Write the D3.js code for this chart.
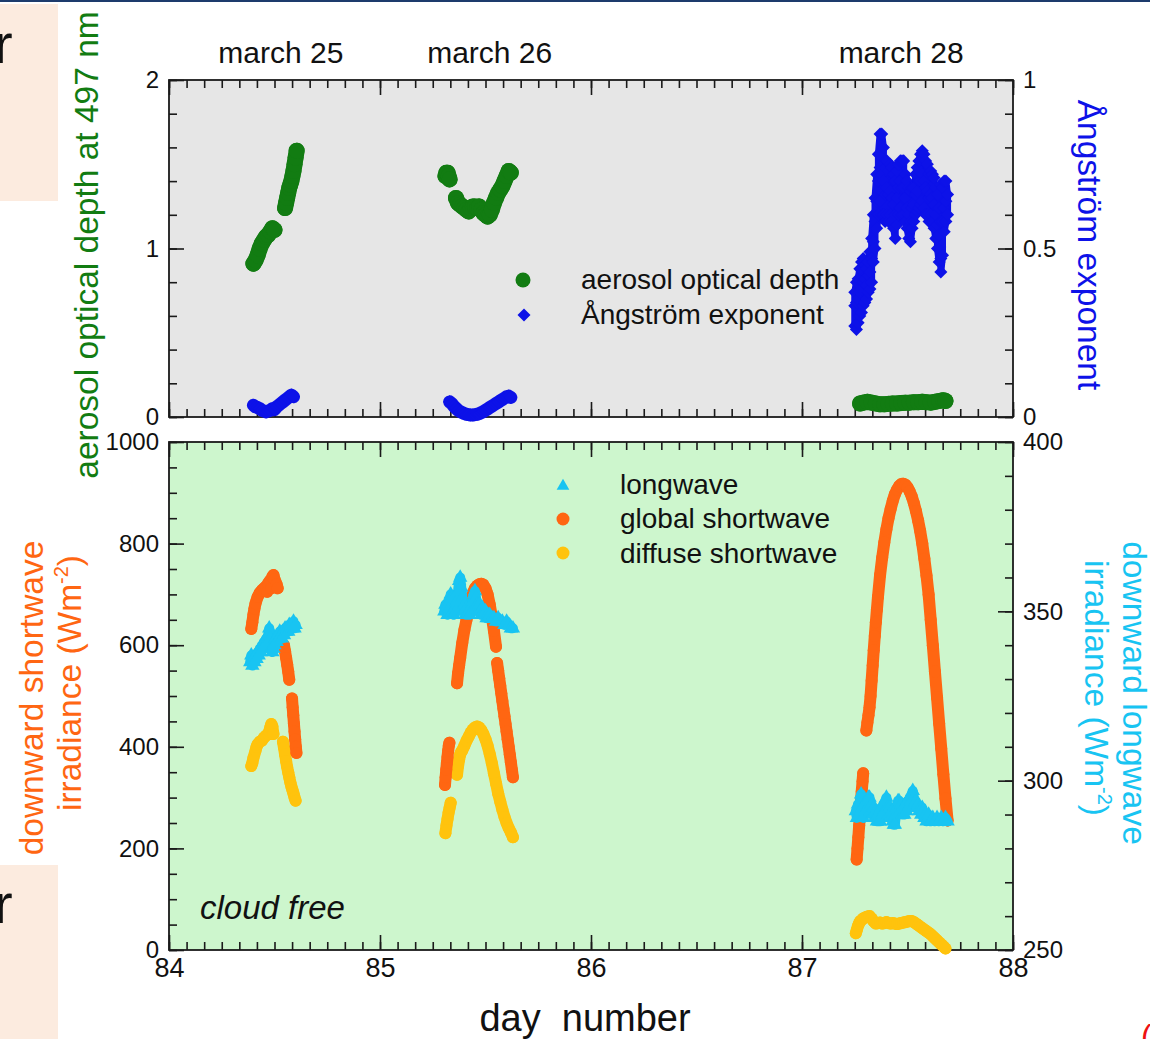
<!DOCTYPE html>
<html>
<head>
<meta charset="utf-8">
<script src="https://cdn.jsdelivr.net/npm/d3@7"></script>
<style>
body { margin: 0; background: #fff; }
svg { display: block; font-family: "Liberation Sans", Arial, Helvetica, sans-serif; }
</style>
</head>
<body>
<svg id="chart" width="1150" height="1039"></svg>
<script>

// ---- data: [day number, value] ----

// aerosol optical depth at 497 nm (left axis, top panel)
var aodSegments = [
  [[84.40,0.91],[84.41,0.93],[84.42,0.96],[84.43,1.00],[84.44,1.03],[84.45,1.05],[84.46,1.07],[84.47,1.08],[84.48,1.10],[84.49,1.12],[84.50,1.11]],
  [[84.550,1.24],[84.555,1.27],[84.560,1.30],[84.565,1.33],[84.570,1.36],[84.575,1.38],[84.580,1.40],[84.585,1.43],[84.590,1.46],[84.595,1.50],[84.600,1.54],[84.605,1.58]],
  [[85.310,1.43],[85.315,1.45],[85.320,1.45],[85.325,1.43],[85.330,1.41]],
  [[85.36,1.30],[85.37,1.27],[85.38,1.26],[85.39,1.25],[85.40,1.24],[85.41,1.23],[85.42,1.22],[85.43,1.24],[85.44,1.25],[85.45,1.25],[85.46,1.24],[85.47,1.25],[85.48,1.23],[85.49,1.21],[85.50,1.20],[85.51,1.19],[85.52,1.20],[85.53,1.23],[85.54,1.27],[85.55,1.30],[85.56,1.33],[85.57,1.35],[85.58,1.37],[85.59,1.40],[85.60,1.43],[85.61,1.46],[85.62,1.45]],
  [[87.275,0.08],[87.29,0.085],[87.31,0.09],[87.33,0.085],[87.35,0.08],[87.37,0.075],[87.39,0.075],[87.41,0.078],[87.43,0.08],[87.45,0.08],[87.47,0.083],[87.49,0.085],[87.51,0.085],[87.53,0.088],[87.55,0.088],[87.57,0.09],[87.59,0.088],[87.61,0.085],[87.63,0.09],[87.65,0.095],[87.67,0.10],[87.68,0.095]]
];

// Angstrom exponent (right axis, top panel), march 25 and 26
var angSegments = [
  [[84.40,0.035],[84.41,0.03],[84.42,0.028],[84.43,0.025],[84.44,0.02],[84.45,0.018],[84.46,0.015],[84.47,0.018],[84.48,0.02],[84.49,0.025],[84.50,0.022],[84.51,0.03],[84.52,0.035],[84.53,0.04],[84.54,0.045],[84.55,0.05],[84.56,0.055],[84.57,0.06],[84.58,0.065],[84.59,0.06]],
  [[85.33,0.045],[85.34,0.04],[85.35,0.032],[85.36,0.026],[85.37,0.02],[85.38,0.016],[85.39,0.013],[85.40,0.01],[85.41,0.008],[85.42,0.007],[85.43,0.006],[85.44,0.006],[85.45,0.007],[85.46,0.008],[85.47,0.01],[85.48,0.013],[85.49,0.016],[85.50,0.02],[85.51,0.024],[85.52,0.028],[85.53,0.032],[85.54,0.036],[85.55,0.04],[85.56,0.044],[85.57,0.048],[85.58,0.052],[85.59,0.056],[85.60,0.06],[85.61,0.062],[85.62,0.058]]
];

// Angstrom exponent march 28: several readings per time step
var ang28 = [
  [87.250,[0.27,0.33,0.37]],[87.258,[0.40,0.34,0.26]],[87.266,[0.28,0.35,0.41]],[87.274,[0.44,0.37,0.30]],
  [87.282,[0.31,0.38,0.46]],[87.290,[0.47,0.40,0.33]],[87.298,[0.34,0.41,0.45]],[87.306,[0.44,0.39,0.35]],
  [87.314,[0.37,0.42,0.46]],[87.322,[0.49,0.43,0.38]],[87.330,[0.40,0.47,0.53]],[87.338,[0.60,0.52,0.46]],
  [87.346,[0.50,0.58,0.65]],[87.354,[0.72,0.64,0.56]],[87.362,[0.60,0.70,0.78]],[87.370,[0.84,0.74,0.64]],
  [87.378,[0.60,0.72,0.84]],[87.386,[0.80,0.70,0.60]],[87.394,[0.58,0.66,0.74]],[87.402,[0.76,0.68,0.60]],
  [87.410,[0.58,0.66,0.73]],[87.418,[0.75,0.67,0.60]],[87.426,[0.58,0.65,0.74]],[87.434,[0.72,0.63,0.56]],
  [87.442,[0.53,0.60,0.70]],[87.450,[0.73,0.65,0.57]],[87.458,[0.60,0.68,0.75]],[87.466,[0.76,0.70,0.62]],
  [87.474,[0.60,0.68,0.76]],[87.482,[0.76,0.68,0.60]],[87.490,[0.58,0.65,0.72]],[87.498,[0.70,0.62,0.56]],
  [87.506,[0.53,0.60,0.68]],[87.514,[0.67,0.58,0.52]],[87.522,[0.56,0.62,0.68]],[87.530,[0.68,0.63,0.58]],
  [87.538,[0.60,0.66,0.72]],[87.546,[0.74,0.67,0.61]],[87.554,[0.62,0.70,0.76]],[87.562,[0.78,0.70,0.63]],
  [87.570,[0.64,0.72,0.79]],[87.578,[0.78,0.70,0.62]],[87.586,[0.60,0.68,0.76]],[87.594,[0.75,0.67,0.60]],
  [87.602,[0.58,0.65,0.72]],[87.610,[0.73,0.66,0.60]],[87.618,[0.58,0.65,0.72]],[87.626,[0.71,0.63,0.56]],
  [87.634,[0.53,0.60,0.68]],[87.642,[0.66,0.57,0.50]],[87.650,[0.46,0.54,0.62]],[87.658,[0.69,0.58,0.47,0.43]],
  [87.666,[0.48,0.58,0.68]],[87.674,[0.70,0.62,0.55]],[87.682,[0.58,0.64,0.70]],[87.690,[0.66,0.60]]
];

// downward longwave irradiance, W m-2 (right axis, bottom panel)
var lwSegments = [
  [[84.385,335],[84.39,337],[84.395,334],[84.40,336],[84.405,335],[84.41,337],[84.415,336],[84.42,338],[84.425,337],[84.43,339],[84.435,338],[84.44,340],[84.445,339],[84.45,341],[84.455,340],[84.46,342],[84.465,341],[84.47,343],[84.475,345],[84.48,342],[84.485,339],[84.49,338],[84.495,339],[84.50,340],[84.505,342],[84.51,341],[84.515,343],[84.52,342],[84.525,344],[84.53,343],[84.535,342],[84.54,344],[84.545,343],[84.55,345],[84.555,344],[84.56,345],[84.565,344],[84.57,346],[84.575,345],[84.58,346],[84.585,345],[84.59,347],[84.595,345],[84.60,346]],
  [[85.305,350],[85.31,352],[85.315,351],[85.32,349],[85.325,353],[85.33,351],[85.335,355],[85.34,354],[85.345,350],[85.35,349],[85.355,351],[85.36,350],[85.365,353],[85.37,356],[85.375,359],[85.38,360],[85.385,357],[85.39,354],[85.395,350],[85.40,352],[85.405,349],[85.41,351],[85.415,349],[85.42,350],[85.425,349],[85.43,351],[85.435,350],[85.44,353],[85.445,355],[85.45,356],[85.455,354],[85.46,352],[85.465,350],[85.47,352],[85.475,350],[85.48,349],[85.485,351],[85.49,350],[85.495,349],[85.50,350],[85.505,348],[85.51,349],[85.515,348],[85.52,349],[85.53,348],[85.54,348],[85.55,347],[85.56,348],[85.57,347],[85.58,347],[85.59,346],[85.60,347],[85.61,346],[85.62,345],[85.63,345]],
  [[87.255,291],[87.26,289],[87.265,293],[87.27,290],[87.275,294],[87.28,296],[87.285,292],[87.29,289],[87.295,293],[87.30,291],[87.305,294],[87.31,292],[87.315,295],[87.32,295],[87.325,291],[87.33,293],[87.335,290],[87.34,292],[87.345,289],[87.35,291],[87.355,288],[87.36,290],[87.365,288],[87.37,288],[87.375,292],[87.38,290],[87.385,293],[87.39,291],[87.395,294],[87.40,295],[87.405,292],[87.41,290],[87.415,292],[87.42,289],[87.425,291],[87.43,288],[87.435,287],[87.44,287],[87.445,290],[87.45,292],[87.455,294],[87.46,294],[87.465,291],[87.47,293],[87.475,290],[87.48,292],[87.485,290],[87.49,293],[87.495,291],[87.50,294],[87.505,292],[87.51,295],[87.515,294],[87.52,296],[87.525,297],[87.53,295],[87.535,293],[87.54,294],[87.545,292],[87.55,293],[87.555,291],[87.56,292],[87.565,290],[87.57,292],[87.575,291],[87.58,289],[87.585,290],[87.59,288],[87.60,290],[87.61,288],[87.62,289],[87.63,288],[87.64,289],[87.65,288],[87.66,289],[87.67,288],[87.68,289],[87.69,288]]
];

// global shortwave irradiance, W m-2 (left axis, bottom panel)
var gswSegments = [
  [[84.39,632],[84.395,645],[84.40,660],[84.405,672],[84.41,682],[84.42,695],[84.43,703],[84.44,708],[84.45,712],[84.46,716],[84.465,705],[84.47,722],[84.48,728],[84.485,712],[84.49,735],[84.495,738],[84.50,730],[84.51,720],[84.515,712]],
  [[84.545,600],[84.55,588],[84.555,575],[84.56,562],[84.565,548],[84.57,532]],
  [[84.583,495],[84.586,478],[84.589,462],[84.592,446],[84.595,430],[84.598,415],[84.601,400],[84.604,388]],
  [[85.308,325],[85.311,340],[85.314,355],[85.317,368],[85.320,380],[85.323,392],[85.326,402],[85.329,408]],
  [[85.365,525],[85.37,545],[85.375,560],[85.38,575],[85.39,605],[85.40,630],[85.41,650],[85.42,675],[85.43,692],[85.44,703],[85.45,712],[85.46,717],[85.47,720],[85.48,721],[85.49,719],[85.50,712],[85.51,700],[85.52,680],[85.53,656],[85.54,628],[85.55,597]],
  [[85.555,565],[85.56,550],[85.565,535],[85.57,520],[85.575,505],[85.58,490],[85.585,475],[85.59,460],[85.595,445],[85.60,430],[85.605,415],[85.61,400],[85.615,385],[85.62,370],[85.625,355],[85.63,340]],
  [[87.259,178],[87.263,200],[87.267,222],[87.271,245],[87.275,268],[87.279,290],[87.283,312],[87.287,332],[87.290,348]],
  [[87.305,432],[87.31,448],[87.315,462],[87.32,478],[87.325,500],[87.33,530],[87.335,560],[87.34,590],[87.345,618],[87.35,645],[87.355,670],[87.36,695],[87.37,738],[87.38,772],[87.39,802],[87.40,828],[87.41,850],[87.42,868],[87.43,884],[87.44,897],[87.45,906],[87.46,913],[87.47,917],[87.48,918],[87.49,916],[87.50,911],[87.51,903],[87.52,893],[87.53,880],[87.54,864],[87.55,846],[87.56,825],[87.57,800],[87.58,770],[87.59,737],[87.60,700],[87.61,650],[87.62,600],[87.63,548],[87.64,497],[87.65,446],[87.66,396],[87.67,346],[87.68,298],[87.69,255]]
];

// diffuse shortwave irradiance, W m-2 (left axis, bottom panel)
var dswSegments = [
  [[84.39,362],[84.395,368],[84.40,378],[84.41,392],[84.415,400],[84.42,405],[84.43,410],[84.44,412],[84.45,418],[84.46,422],[84.47,425],[84.475,430],[84.48,438],[84.485,445],[84.49,440],[84.495,425]],
  [[84.54,410],[84.545,398],[84.55,385],[84.555,372],[84.56,360],[84.565,350],[84.57,340],[84.575,330],[84.58,322],[84.585,315],[84.59,308],[84.595,300],[84.60,294]],
  [[85.310,230],[85.315,245],[85.320,258],[85.325,270],[85.330,280],[85.335,290]],
  [[85.365,345],[85.37,362],[85.375,375],[85.38,385],[85.385,390],[85.39,393],[85.40,402],[85.41,412],[85.42,420],[85.43,428],[85.44,434],[85.45,438],[85.46,440],[85.47,438],[85.48,433],[85.49,425],[85.50,415],[85.51,402],[85.52,386],[85.53,368],[85.54,348],[85.55,328],[85.56,308],[85.57,292],[85.58,276],[85.59,262],[85.60,250],[85.61,240],[85.62,232],[85.63,222]],
  [[87.255,33],[87.26,40],[87.265,47],[87.27,52],[87.275,56],[87.28,58],[87.29,62],[87.30,64],[87.31,66],[87.32,67],[87.33,62],[87.34,56],[87.35,52],[87.36,53],[87.37,54],[87.38,52],[87.39,53],[87.40,55],[87.41,53],[87.42,52],[87.43,53],[87.44,52],[87.45,51],[87.46,52],[87.47,53],[87.48,54],[87.49,55],[87.50,56],[87.51,57],[87.52,57],[87.53,55],[87.54,52],[87.55,49],[87.56,46],[87.57,43],[87.58,40],[87.59,37],[87.60,34],[87.61,31],[87.62,27],[87.63,23],[87.64,19],[87.65,15],[87.66,11],[87.67,7],[87.68,3]]
];

var dayLabels = ["march 25", "march 26", "march 28"];
var dayTicks = [84, 85, 86, 87, 88];
var aodTicks = [0, 1, 2];
var angTicks = [0, 0.5, 1];
var swTicks = [0, 200, 400, 600, 800, 1000];
var lwTicks = [250, 300, 350, 400];

// ---- drawing ----
var svg = d3.select("#chart");

var green = "#127c12", blue = "#0d12e8", orange = "#ff6612", yellow = "#ffc30d", sky = "#18c4f2";

var x = d3.scaleLinear().domain([84, 88]).range([169, 1013]);
var yAod = d3.scaleLinear().domain([0, 2]).range([417, 80]);
var yAng = d3.scaleLinear().domain([0, 1]).range([417, 80]);
var ySw = d3.scaleLinear().domain([0, 1000]).range([950, 442]);
var yLw = d3.scaleLinear().domain([250, 400]).range([950, 442]);

// slide remnants around the figure
svg.append("rect").attr("x", 0).attr("y", 0).attr("width", 1150).attr("height", 2).attr("fill", "#1d3b6c");
svg.append("rect").attr("x", 0).attr("y", 4).attr("width", 58).attr("height", 197).attr("fill", "#fcebdf");
svg.append("rect").attr("x", 0).attr("y", 865).attr("width", 58).attr("height", 174).attr("fill", "#fcebdf");
svg.append("text").attr("x", -6).attr("y", 63).attr("font-size", 56).attr("fill", "#111").text("r");
svg.append("text").attr("x", -6).attr("y", 923).attr("font-size", 56).attr("fill", "#111").text("r");
svg.append("text").attr("x", 1141).attr("y", 1047).attr("font-size", 32).attr("fill", "#ee1111").text("(");

// panel backgrounds
svg.append("rect").attr("x", x(84)).attr("y", yAod(2)).attr("width", x(88) - x(84)).attr("height", yAod(0) - yAod(2)).attr("fill", "#e6e6e6");
svg.append("rect").attr("x", x(84)).attr("y", ySw(1000)).attr("width", x(88) - x(84)).attr("height", ySw(0) - ySw(1000)).attr("fill", "#cdf6cd");

// axes: every tick points into the panel
function addAxis(gen, scale, vals, size, fmt, tx, ty, fontSize, pad) {
  var a = gen(scale).tickValues(vals).tickSizeInner(-size).tickSizeOuter(0).tickPadding(pad || 10)
    .tickFormat(fmt || "");
  var g = svg.append("g").attr("transform", "translate(" + tx + "," + ty + ")").call(a);
  g.select(".domain").remove();
  g.selectAll("line").attr("stroke", "#1a1a1a").attr("stroke-width", 1.6);
  g.selectAll("text").attr("font-size", fontSize || 24).attr("fill", "#111")
    .attr("font-family", "'Liberation Sans', Arial, sans-serif");
  return g;
}
var minorDays = d3.range(0, 49).map(function(i) { return 84 + i / 12; });
var fmtNum = function(d) { return String(d); };

[yAod(0), yAod(2), ySw(0), ySw(1000)].forEach(function(yy, i) {
  var gen = (i % 2 == 0) ? d3.axisBottom : d3.axisTop;
  addAxis(gen, x, minorDays, 8, null, 0, yy);
  addAxis(gen, x, dayTicks, 15, (i == 2) ? fmtNum : null, 0, yy, 27, 8);
});

addAxis(d3.axisLeft, yAod, d3.range(0, 11).map(function(i) { return i * 0.2; }), 8, null, x(84), 0);
addAxis(d3.axisLeft, yAod, aodTicks, 15, fmtNum, x(84), 0);
addAxis(d3.axisRight, yAng, d3.range(0, 11).map(function(i) { return i * 0.1; }), 8, null, x(88), 0);
addAxis(d3.axisRight, yAng, angTicks, 15, fmtNum, x(88), 0);
addAxis(d3.axisLeft, ySw, d3.range(0, 21).map(function(i) { return i * 50; }), 8, null, x(84), 0);
addAxis(d3.axisLeft, ySw, swTicks, 15, fmtNum, x(84), 0, 24, 10);
addAxis(d3.axisRight, yLw, d3.range(0, 16).map(function(i) { return 250 + i * 10; }), 8, null, x(88), 0);
addAxis(d3.axisRight, yLw, lwTicks, 15, fmtNum, x(88), 0, 24, 10);

// panel frames
svg.append("rect").attr("x", x(84)).attr("y", yAod(2)).attr("width", x(88) - x(84)).attr("height", yAod(0) - yAod(2))
  .attr("fill", "none").attr("stroke", "#1a1a1a").attr("stroke-width", 1.8);
svg.append("rect").attr("x", x(84)).attr("y", ySw(1000)).attr("width", x(88) - x(84)).attr("height", ySw(0) - ySw(1000))
  .attr("fill", "none").attr("stroke", "#1a1a1a").attr("stroke-width", 1.8);

// markers
var circleSym = function(r) { return d3.symbol().type(d3.symbolCircle).size(Math.PI * r * r)(); };
var diamondSym = d3.symbol().type(d3.symbolSquare).size(85)();
var triSym = d3.symbol().type(d3.symbolTriangle).size(90)();

function drawSeries(segs, yScale, color, bandWidth, sym, rot) {
  var g = svg.append("g");
  var line = d3.line().x(function(d) { return x(d[0]); }).y(function(d) { return yScale(d[1]); });
  segs.forEach(function(s) {
    g.append("path").attr("d", line(s)).attr("fill", "none").attr("stroke", color)
      .attr("stroke-width", bandWidth).attr("stroke-linecap", "round").attr("stroke-linejoin", "round");
    g.selectAll(null).data(s).enter().append("path").attr("d", sym).attr("fill", color)
      .attr("transform", function(d) { return "translate(" + x(d[0]) + "," + yScale(d[1]) + ")" + (rot ? " rotate(45)" : ""); });
  });
}

drawSeries(aodSegments, yAod, green, 16, circleSym(8));
var ang28Points = [];
ang28.forEach(function(c) { c[1].forEach(function(v) { ang28Points.push([c[0], v]); }); });
drawSeries(angSegments, yAng, blue, 13, diamondSym, true);
drawSeries([ang28Points], yAng, blue, 7, diamondSym, true);

drawSeries(dswSegments, ySw, yellow, 12, circleSym(6));
drawSeries(gswSegments, ySw, orange, 12, circleSym(6));
drawSeries(lwSegments, yLw, sky, 10, triSym);

// legends
svg.append("path").attr("d", circleSym(7.5)).attr("fill", green).attr("transform", "translate(523,280)");
svg.append("path").attr("d", diamondSym).attr("fill", blue).attr("transform", "translate(524,315) rotate(45)");
svg.append("text").attr("x", 581).attr("y", 289).attr("font-size", 28).attr("fill", "#111").text("aerosol optical depth");
svg.append("text").attr("x", 581).attr("y", 324).attr("font-size", 28).attr("fill", "#111").text("Ångström exponent");

svg.append("path").attr("d", d3.symbol().type(d3.symbolTriangle).size(70)()).attr("fill", sky).attr("transform", "translate(563,486)");
svg.append("path").attr("d", circleSym(6.5)).attr("fill", orange).attr("transform", "translate(563,519)");
svg.append("path").attr("d", circleSym(6.5)).attr("fill", yellow).attr("transform", "translate(563,553)");
svg.append("text").attr("x", 620).attr("y", 494).attr("font-size", 28).attr("fill", "#111").text("longwave");
svg.append("text").attr("x", 620).attr("y", 528).attr("font-size", 28).attr("fill", "#111").text("global shortwave");
svg.append("text").attr("x", 620).attr("y", 563).attr("font-size", 28).attr("fill", "#111").text("diffuse shortwave");

svg.append("text").attr("x", 200).attr("y", 919).attr("font-size", 33).attr("font-style", "italic").attr("fill", "#111").text("cloud free");

// day labels above the top panel
[84.53, 85.52, 87.47].forEach(function(d, i) {
  svg.append("text").attr("x", x(d)).attr("y", 63).attr("text-anchor", "middle").attr("font-size", 30)
    .attr("fill", "#111").text(dayLabels[i]);
});

// axis titles
svg.append("text").attr("x", 585).attr("y", 1031).attr("text-anchor", "middle").attr("font-size", 38)
  .attr("fill", "#111").attr("xml:space", "preserve").text("day  number");

function vTitle(tx, ty, angle, color, parts) {
  var t = svg.append("text").attr("transform", "translate(" + tx + "," + ty + ") rotate(" + angle + ")")
    .attr("text-anchor", "middle").attr("font-size", 33.5).attr("fill", color);
  parts.forEach(function(p) {
    var s = t.append("tspan").text(p[0]);
    if (p[1]) s.attr("font-size", 20).attr("dy", -13);
    if (p[2]) s.attr("dy", 13);
  });
}
vTitle(98, 245, -90, green, [["aerosol optical depth at 497 nm"]]);
vTitle(1078, 245, 90, blue, [["Ångström exponent"]]);
vTitle(43, 698, -90, orange, [["downward shortwave"]]);
vTitle(81, 683, -90, orange, [["irradiance (Wm"], ["-2", true], [")", false, true]]);
vTitle(1123, 693, 90, sky, [["downward longwave"]]);
vTitle(1085, 688, 90, sky, [["irradiance (Wm"], ["-2", true], [")", false, true]]);

</script>
</body>
</html>
